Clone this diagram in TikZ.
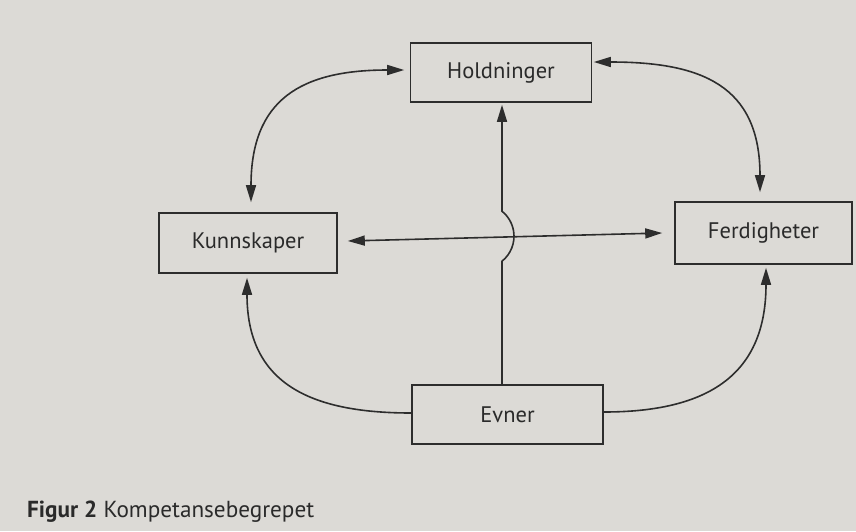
\documentclass[tikz,border=0pt]{standalone}
\usepackage{fontspec}
\setmainfont{PT Sans}
\usetikzlibrary{arrows.meta}
\definecolor{paper}{RGB}{220,218,214}
\definecolor{ink}{RGB}{45,45,45}
\definecolor{txt}{RGB}{42,42,42}
\tikzset{
  box/.style={draw=ink, line width=1.6pt, rectangle, inner sep=0pt, text=txt,
    font=\fontsize{22.5}{26}\selectfont},
  conn/.style={draw=ink, line width=1.6pt},
  tip/.style={-{Triangle[length=17pt,width=10pt]}},
  dtip/.style={{Triangle[length=17pt,width=10pt]}-{Triangle[length=17pt,width=10pt]}}
}
\begin{document}
\begin{tikzpicture}[x=1pt,y=1pt]
\fill[paper] (0,0) rectangle (856,-531);
\useasboundingbox (0,0) rectangle (856,-531);

\node[box, minimum width=181pt, minimum height=59pt] (H) at (501,-72.5) {Holdninger};
\node[box, minimum width=178pt, minimum height=60pt] (K) at (248,-243) {Kunnskaper};
\node[box, minimum width=177pt, minimum height=62pt] (F) at (763.5,-233) {Ferdigheter};
\node[box, minimum width=191pt, minimum height=59pt] (E) at (507.5,-414.5) {Evner};

% curved connectors
\draw[conn,dtip] ([shift={(-5.5,2.5)}]H.west) to[out=180,in=90,looseness=1.3] ([shift={(3,10)}]K.north);
\draw[conn,dtip] ([shift={(1.5,10.5)}]H.east) to[out=0,in=90,looseness=1.3] ([shift={(-3.5,9)}]F.north);
\draw[conn,tip] ([shift={(0,1.5)}]E.west) to[out=180,in=-90,looseness=1.25] ([shift={(-1,-4)}]K.south);
\draw[conn,tip] ([shift={(0,2.5)}]E.east) to[out=0,in=-90,looseness=1.25] ([shift={(2.5,-3)}]F.south);

% horizontal double arrow
\draw[conn,dtip] ([shift={(10,2)}]K.east) -- ([shift={(-12,0)}]F.west);

% vertical arrow with hop
\draw[conn,tip] ([xshift=-5.5]E.north) -- ++(0,123)
  arc[start angle=-51.3, end angle=51.3, radius=32]
  -- ([shift={(1,-2)}]H.south);

\node[anchor=base west, inner sep=0pt, text=txt, font=\fontsize{23.2}{27}\selectfont] (cap) at (27,-517)
  {\textbf{Figur 2} Kompetansebegrepet};
\end{tikzpicture}
\end{document}
